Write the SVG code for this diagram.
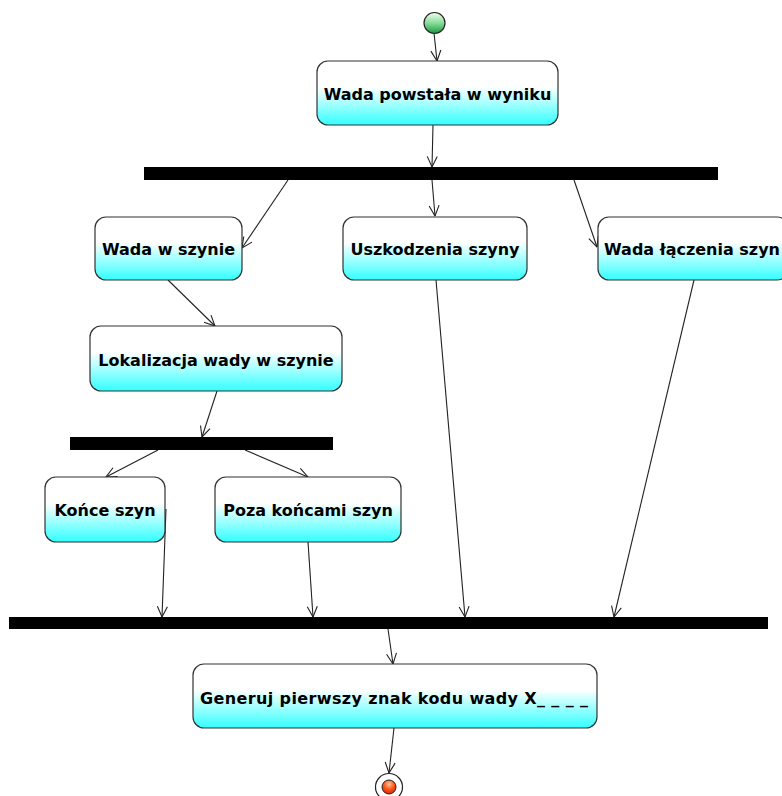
<svg xmlns="http://www.w3.org/2000/svg" width="782" height="796" viewBox="0 0 782 796">
<style>
.box{stroke:#333;stroke-width:1.2;fill:url(#cy)}
.lbl{font-family:"DejaVu Sans",Verdana,sans-serif;font-weight:bold;font-size:16px;fill:#000;text-anchor:middle}
.bar{fill:#000}
.edge{stroke:#222;stroke-width:1.1;fill:none;marker-end:url(#ah)}
</style>
<defs>
<linearGradient id="cy" x1="0" y1="0" x2="0" y2="1">
<stop offset="0" stop-color="#ffffff"/>
<stop offset="0.4" stop-color="#ffffff"/>
<stop offset="1" stop-color="#33ffff"/>
</linearGradient>
<linearGradient id="gr" x1="0" y1="0" x2="0" y2="1">
<stop offset="0" stop-color="#f2fff2"/>
<stop offset="0.5" stop-color="#88dd99"/>
<stop offset="1" stop-color="#189a3c"/>
</linearGradient>
<radialGradient id="rd" cx="0.5" cy="0.3" r="0.7">
<stop offset="0" stop-color="#ffc8a0"/>
<stop offset="0.5" stop-color="#ff5a1e"/>
<stop offset="1" stop-color="#d42a00"/>
</radialGradient>
<marker id="ah" viewBox="0 0 12 12" refX="11.5" refY="6" markerWidth="12" markerHeight="12" markerUnits="userSpaceOnUse" orient="auto">
<path d="M1,1 L11.5,6 L1,11" fill="none" stroke="#222" stroke-width="1.1"/>
</marker>
</defs>
<rect width="782" height="796" fill="#fff"/>

<g id="connectors">
<line class="edge" x1="434" y1="33" x2="437" y2="61"/>
<line class="edge" x1="433" y1="125" x2="432" y2="167"/>
<line class="edge" x1="288" y1="180" x2="242" y2="248"/>
<line class="edge" x1="432" y1="180" x2="435" y2="216"/>
<line class="edge" x1="574" y1="180" x2="597" y2="247"/>
<line class="edge" x1="168" y1="280" x2="215" y2="326"/>
<line class="edge" x1="217" y1="391" x2="202" y2="437"/>
<line class="edge" x1="158" y1="450" x2="106" y2="477"/>
<line class="edge" x1="245" y1="450" x2="308" y2="477"/>
<line class="edge" x1="166" y1="509" x2="162" y2="617"/>
<line class="edge" x1="308" y1="542" x2="313" y2="617"/>
<line class="edge" x1="436" y1="280" x2="465" y2="617"/>
<line class="edge" x1="694" y1="280" x2="614" y2="617"/>
<line class="edge" x1="388" y1="629" x2="393" y2="664"/>
<line class="edge" x1="394" y1="728" x2="389" y2="773"/>
</g>

<g id="start">
<circle cx="434.5" cy="23" r="10.5" fill="url(#gr)" stroke="#222" stroke-width="1.2"/>
</g>

<g id="n-wada-powstala">
<rect class="box" x="317" y="61" width="241" height="64" rx="11"/>
<text class="lbl" x="437.5" y="100">Wada powstała w wyniku</text>
</g>

<g id="fork1"><rect class="bar" x="144" y="167" width="574" height="13"/></g>

<g id="n-wada-w-szynie">
<rect class="box" x="95" y="217" width="147" height="63" rx="11"/>
<text class="lbl" x="168.5" y="255">Wada w szynie</text>
</g>

<g id="n-uszkodzenia">
<rect class="box" x="343" y="217" width="184" height="63" rx="11"/>
<text class="lbl" x="435" y="255">Uszkodzenia szyny</text>
</g>

<g id="n-wada-laczenia">
<rect class="box" x="598" y="217" width="190" height="63" rx="11"/>
<text class="lbl" x="692" y="255">Wada łączenia szyn</text>
</g>

<g id="n-lokalizacja">
<rect class="box" x="90" y="326" width="252" height="65" rx="11"/>
<text class="lbl" x="216" y="366">Lokalizacja wady w szynie</text>
</g>

<g id="fork2"><rect class="bar" x="70" y="437" width="263" height="13"/></g>

<g id="n-konce">
<rect class="box" x="45" y="477" width="120" height="65" rx="11"/>
<text class="lbl" x="105" y="516">Końce szyn</text>
</g>

<g id="n-poza">
<rect class="box" x="215" y="477" width="186" height="65" rx="11"/>
<text class="lbl" x="308" y="516">Poza końcami szyn</text>
</g>

<g id="join"><rect class="bar" x="9" y="617" width="759" height="12"/></g>

<g id="n-generuj">
<rect class="box" x="193" y="664" width="404" height="64" rx="11"/>
<text class="lbl" x="394" y="704" textLength="388" lengthAdjust="spacing">Generuj pierwszy znak kodu wady X_ _ _ _</text>
</g>

<g id="end">
<circle cx="389" cy="787" r="13.5" fill="#fff" stroke="#222" stroke-width="1.2"/>
<circle cx="389" cy="787" r="7" fill="url(#rd)" stroke="#222" stroke-width="1"/>
</g>
</svg>
